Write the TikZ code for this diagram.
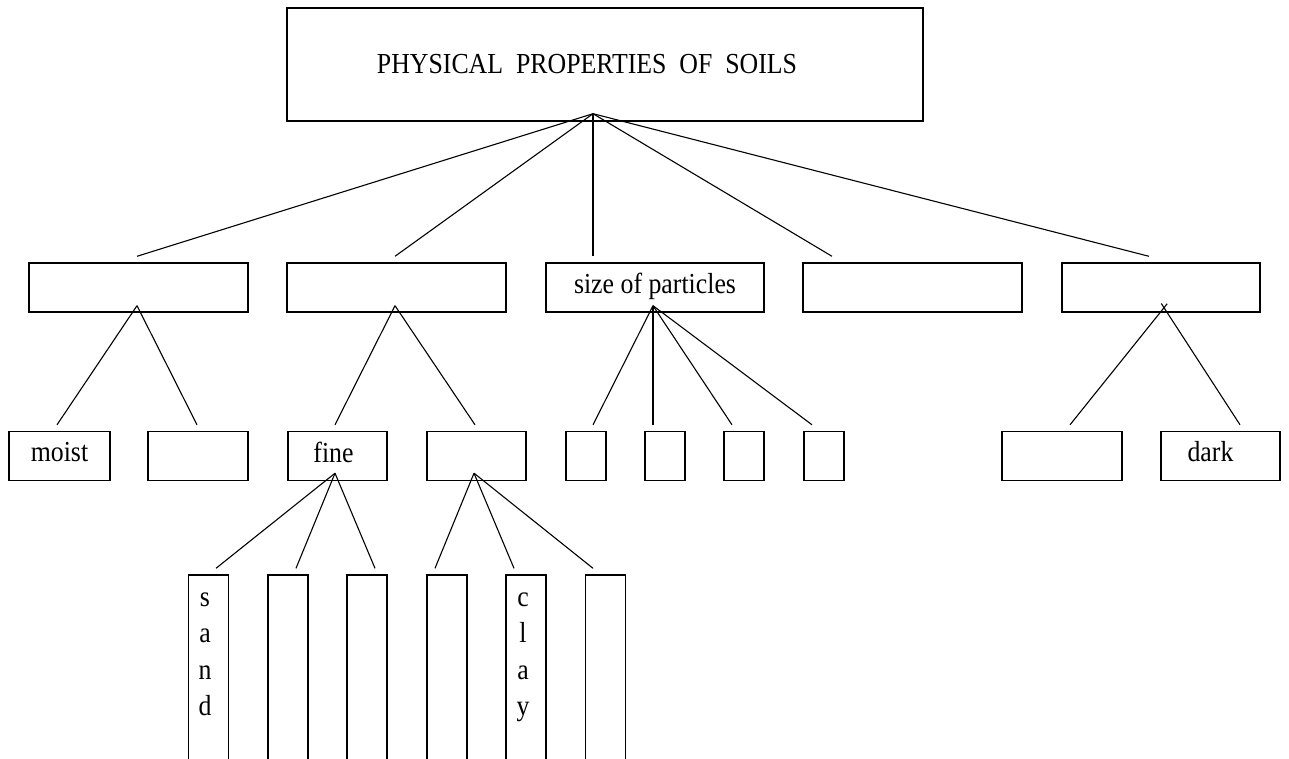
\documentclass[tikz,border=0pt]{standalone}
\usepackage{fontspec}
\setmainfont{Liberation Serif}[FakeStretch=0.89]
\usetikzlibrary{positioning, calc}

\begin{document}
\begin{tikzpicture}[
    x=1pt, y=-1pt,
    every node/.style={font=\fontsize{29}{36.5}\selectfont},
    box/.style={rectangle, draw=black, line width=1.4pt, inner sep=0pt, minimum height=49pt, text height=19pt, text depth=8pt},
    wide/.style={box, minimum width=219pt},
    small/.style={box, minimum width=100pt},
    tiny/.style={box, minimum width=40pt},
    tall/.style={rectangle, draw=black, line width=1.4pt, minimum width=40pt, minimum height=230pt},
    stack/.style={align=center, anchor=north, inner sep=0pt},
    branch/.style={line width=1.1pt},
    cross/.style={branch, shorten <=-5pt}
]
\useasboundingbox (0,0) rectangle (1289,759);
\clip (0,0) rectangle (1289,759);

% title
\node (top) [box, minimum width=636pt, minimum height=113pt, label={[xshift=-18pt]center:PHYSICAL\ \ PROPERTIES\ \ OF\ \ SOILS}] at (605,64.5) {};

% second row
\node (moisture) [wide] at (138.5,287.5) {};
\node (texture) [wide] at (396.5,287.5) {};
\node (size) [wide, minimum width=218pt] at (655,287.5) {size of particles};
\node (other) [wide] at (912.5,287.5) {};
\node (colour) [wide, minimum width=198pt] at (1161,287.5) {};

% third row
\node (moist) [small, minimum width=101pt] at (59.5,456) {moist};
\node (wet) [small] at (198,456) {};
\node (fine) [small, minimum width=99pt, label={[xshift=-4pt, yshift=4pt]center:fine}] at (337.5,456) {};
\node (coarse) [small, minimum width=99pt] at (476.5,456) {};
\node (sizea) [tiny] at (586,456) {};
\node (sizeb) [tiny] at (665,456) {};
\node (sizec) [tiny] at (744,456) {};
\node (sized) [tiny] at (824,456) {};
\node (light) [small, minimum width=120pt] at (1062,456) {};
\node (dark) [small, minimum width=119pt, label={[xshift=-10pt, yshift=4pt]center:dark}] at (1220.5,456) {};

% fourth row (runs off the page)
\node (sand) [tall, label={[stack, xshift=-3.5pt, yshift=-18pt]north:{s\\a\\n\\d}}] at (208.5,690) {};
\node (fineb) [tall] at (288,690) {};
\node (finec) [tall] at (367,690) {};
\node (coarsea) [tall] at (447,690) {};
\node (clay) [tall, label={[stack, xshift=-3pt, yshift=-18pt]north:{c\\l\\a\\y}}] at (526,690) {};
\node (coarsec) [tall] at (605.5,690) {};

% forks
\coordinate (topfork) at ([xshift=-12pt,yshift=8pt]top.south);
\coordinate (moisturefork) at ([xshift=-1.5pt,yshift=7pt]moisture.south);
\coordinate (texturefork) at ([xshift=-1.5pt,yshift=7pt]texture.south);
\coordinate (sizefork) at ([xshift=-2pt,yshift=7pt]size.south);
\coordinate (colourfork) at ([xshift=3pt,yshift=5pt]colour.south);
\coordinate (finefork) at ([xshift=-2.5pt,yshift=8pt]fine.south);
\coordinate (coarsefork) at ([xshift=-2.5pt,yshift=8pt]coarse.south);

\draw [branch] (topfork) -- ([xshift=-1.5pt,yshift=6pt]moisture.north);
\draw [branch] (topfork) -- ([xshift=-1.5pt,yshift=6pt]texture.north);
\draw [branch] (topfork) -- ([xshift=-62pt,yshift=6pt]size.north);
\draw [branch] (topfork) -- ([xshift=-80.5pt,yshift=6pt]other.north);
\draw [branch] (topfork) -- ([xshift=-12pt,yshift=6pt]colour.north);

\draw [branch] (moisturefork) -- ([xshift=-2.5pt,yshift=6pt]moist.north);
\draw [branch] (moisturefork) -- ([xshift=-1pt,yshift=6pt]wet.north);
\draw [branch] (texturefork) -- ([xshift=-2.5pt,yshift=6pt]fine.north);
\draw [branch] (texturefork) -- ([xshift=-1.5pt,yshift=6pt]coarse.north);
\draw [branch] (sizefork) -- ([xshift=7pt,yshift=6pt]sizea.north);
\draw [branch] (sizefork) -- ([xshift=-12pt,yshift=6pt]sizeb.north);
\draw [branch] (sizefork) -- ([xshift=-12pt,yshift=6pt]sizec.north);
\draw [branch] (sizefork) -- ([xshift=-12pt,yshift=6pt]sized.north);
\draw [cross] (colourfork) -- ([xshift=8pt,yshift=6pt]light.north);
\draw [cross] (colourfork) -- ([xshift=19.5pt,yshift=6pt]dark.north);

\draw [branch] (finefork) -- ([xshift=7.5pt,yshift=6pt]sand.north);
\draw [branch] (finefork) -- ([xshift=8pt,yshift=6pt]fineb.north);
\draw [branch] (finefork) -- ([xshift=8pt,yshift=6pt]finec.north);
\draw [branch] (coarsefork) -- ([xshift=-12pt,yshift=6pt]coarsea.north);
\draw [branch] (coarsefork) -- ([xshift=-12pt,yshift=6pt]clay.north);
\draw [branch] (coarsefork) -- ([xshift=-12.5pt,yshift=6pt]coarsec.north);
\end{tikzpicture}
\end{document}
